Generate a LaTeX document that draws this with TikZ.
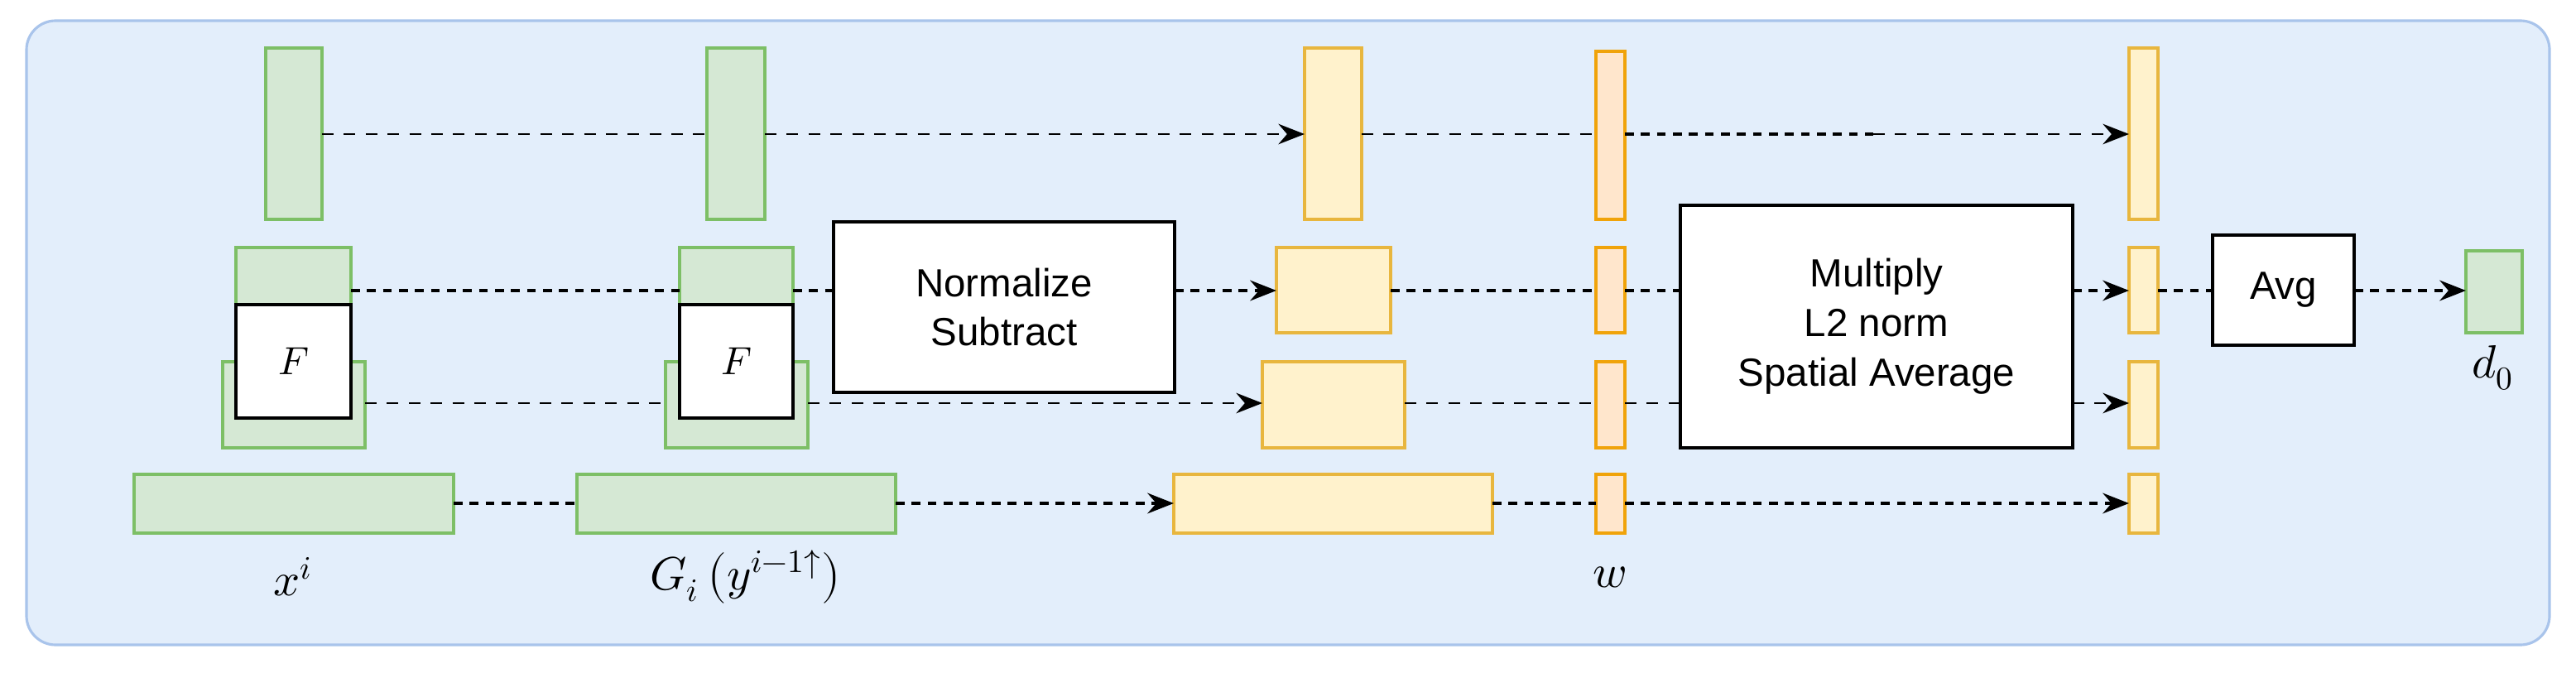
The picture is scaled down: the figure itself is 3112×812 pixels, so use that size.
\documentclass[tikz,border=0pt]{standalone}
\usepackage{fontspec}
\setmainfont{Liberation Sans}
\usepackage{unicode-math}
\setmathfont{Latin Modern Math}
\usetikzlibrary{arrows.meta,calc}
\definecolor{bgf}{HTML}{E3EEFB}
\definecolor{bgd}{HTML}{A9C4EB}
\definecolor{gf}{HTML}{D5E8D4}
\definecolor{gd}{HTML}{7DBF66}
\definecolor{yf}{HTML}{FFF2CC}
\definecolor{yd}{HTML}{E8B63E}
\definecolor{of}{HTML}{FFE6CC}
\definecolor{od}{HTML}{F0A30A}
\newcommand\bx[7][]{\node[#3,inner sep=0pt,outer sep=0pt,anchor=north west,
  minimum width={(#6-#4)*0.01cm},minimum height={(#7-#5)*0.01cm}] (#2) at (#4,#5) {#1};}
\begin{document}
\begin{tikzpicture}[x=0.01cm,y=-0.01cm,
  grn/.style={draw=gd,fill=gf,line width=0.9pt},
  yel/.style={draw=yd,fill=yf,line width=0.9pt},
  org/.style={draw=od,fill=of,line width=0.9pt},
  op/.style={draw=black,fill=white,line width=1.1pt,font=\fontsize{13.5}{17}\selectfont,align=center},
  thin/.style={dash pattern=on 4pt off 3.5pt,line width=0.75pt},
  thick/.style={dash pattern=on 3pt off 2.5pt,line width=1.3pt},
  arr/.style={-{Stealth[length=9pt,width=7pt,inset=3pt]}},
  lab/.style={font=\fontsize{16}{18}\selectfont}]
\useasboundingbox (0,0) rectangle (3112,812);
\draw[draw=bgd,fill=bgf,line width=0.9pt,rounded corners=10pt] (32,25) rectangle (3080,779);
% column 1
\bx{a1}{grn}{321}{58}{389}{265}
\bx{a2}{grn}{285}{299}{424}{368}
\bx{a3}{grn}{269}{437}{441}{541}
\bx[$F$]{f1}{op}{285}{368}{424}{505}
\bx{a4}{grn}{162}{573}{548}{644}
% column 2
\bx{b1}{grn}{854}{58}{924}{265}
\bx{b2}{grn}{821}{299}{958}{368}
\bx{b3}{grn}{804}{437}{976}{541}
\bx[$F$]{f2}{op}{821}{368}{958}{505}
\bx{b4}{grn}{697}{573}{1082}{644}
% normalize
\bx[Normalize\\Subtract]{nrm}{op}{1007}{268}{1419}{474}
% column 3
\bx{c1}{yel}{1576}{58}{1645}{265}
\bx{c2}{yel}{1542}{299}{1680}{402}
\bx{c3}{yel}{1525}{437}{1697}{541}
\bx{c4}{yel}{1418}{573}{1803}{644}
% w column
\bx{w1}{org}{1928}{62}{1963}{265}
\bx{w2}{org}{1928}{299}{1963}{402}
\bx{w3}{org}{1928}{437}{1963}{541}
\bx{w4}{org}{1928}{573}{1963}{644}
% multiply
\bx[Multiply\\L2 norm\\Spatial Average]{mul}{op}{2030}{248}{2504}{541}
% column 5
\bx{e1}{yel}{2572}{58}{2607}{265}
\bx{e2}{yel}{2572}{299}{2607}{402}
\bx{e3}{yel}{2572}{437}{2607}{541}
\bx{e4}{yel}{2572}{573}{2607}{644}
% avg and out
\bx[Avg]{avg}{op}{2673}{284}{2844}{417}
\bx{d}{grn}{2979}{303}{3047}{402}
% labels
\node[lab] (lx) at (354,697) {$x^{i}$};
\node[lab] (lg) at (901,697) {$G_i\left(y^{i-1\uparrow}\right)$};
\node[lab] (lw) at (1945,697) {$w$};
\node[lab] (ld) at (3012,444) {$d_0$};
% row 1
\coordinate (r1) at (0,162);
\draw[thin] (a1.east|-r1) -- (b1.west|-r1);
\draw[thin,arr] (b1.east|-r1) -- (c1.west|-r1);
\draw[thin] (c1.east|-r1) -- (w1.west|-r1);
\coordinate (m1) at ($(w1.east|-r1)+(300,0)$);
\draw[thick] (w1.east|-r1) -- (m1);
\draw[thin,arr] (m1) -- (e1.west|-r1);
% row 2
\coordinate (r2) at (0,351);
\draw[thick] (a2.east|-r2) -- (b2.west|-r2);
\draw[thick] (b2.east|-r2) -- (nrm.west|-r2);
\draw[thick,arr] (nrm.east|-r2) -- (c2.west|-r2);
\draw[thick] (c2.east|-r2) -- (w2.west|-r2);
\draw[thick] (w2.east|-r2) -- (mul.west|-r2);
\draw[thick,arr] (mul.east|-r2) -- (e2.west|-r2);
\draw[thick] (e2.east|-r2) -- (avg.west|-r2);
\draw[thick,arr] (avg.east|-r2) -- (d.west|-r2);
% row 3
\coordinate (r3) at (0,487);
\draw[thin] (a3.east|-r3) -- (b3.west|-r3);
\draw[thin,arr] (b3.east|-r3) -- (c3.west|-r3);
\draw[thin] (c3.east|-r3) -- (w3.west|-r3);
\draw[thin] (w3.east|-r3) -- (mul.west|-r3);
\draw[thin,arr] (mul.east|-r3) -- (e3.west|-r3);
% row 4
\coordinate (r4) at (0,608);
\draw[thick] (a4.east|-r4) -- (b4.west|-r4);
\draw[thick,arr] (b4.east|-r4) -- (c4.west|-r4);
\draw[thick] (c4.east|-r4) -- (w4.west|-r4);
\draw[thick,arr] (w4.east|-r4) -- (e4.west|-r4);
\end{tikzpicture}
\end{document}
